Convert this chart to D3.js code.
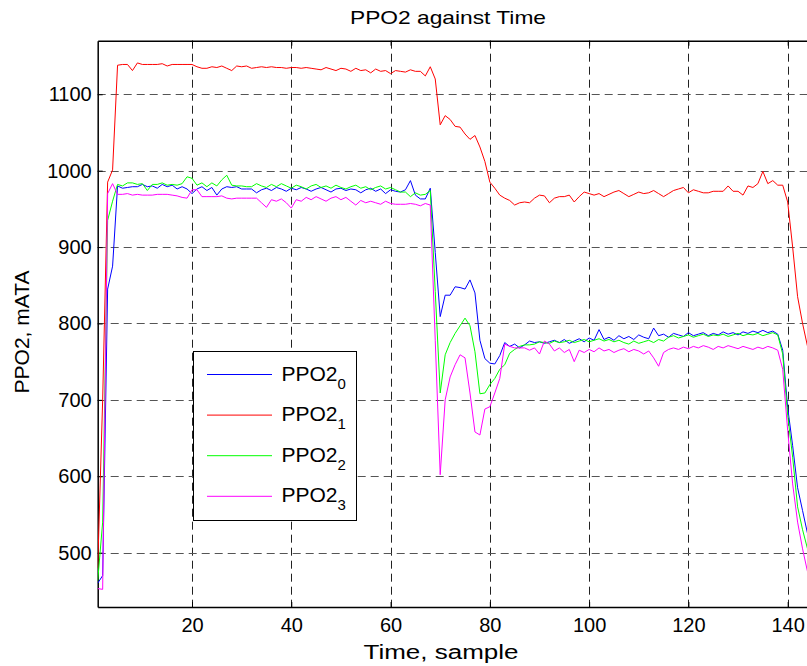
<!DOCTYPE html>
<html>
<head>
<meta charset="utf-8">
<script src="https://cdn.jsdelivr.net/npm/d3@7"></script>
<style>
  body { margin: 0; background: #fff; }
  svg text { font-family: "Liberation Sans", Arial, sans-serif; fill: #000; }
</style>
</head>
<body>
<div id="chart"></div>
<script>
// PPO2 readings per sensor, one value per sample (sample 1..145)
let ppo2_0 = [
    460, 470, 845, 875, 980, 977, 978, 979, 979, 982,
    979, 980, 977, 982, 979, 981, 976, 979, 976, 970,
    976, 979, 974, 978, 968, 976, 979, 978, 979, 976,
    976, 976, 971, 975, 977, 974, 978, 976, 973, 977,
    975, 978, 976, 973, 976, 978, 975, 972, 976, 977,
    974, 976, 975, 971, 975, 977, 973, 976, 970, 975,
    973, 972, 975, 987, 968, 963, 963, 977, 893, 809,
    837, 837, 848, 847, 845, 857, 840, 778, 754, 748,
    747, 758, 775, 770, 773, 768, 772, 777, 775, 776,
    774, 776, 778, 775, 779, 774, 777, 780, 776, 781,
    778, 792, 779, 782, 778, 784, 780, 783, 779, 785,
    782, 780, 794, 784, 786, 782, 787, 785, 783, 788,
    784, 786, 788, 784, 787, 785, 789, 786, 788, 785,
    789, 787, 790, 788, 791, 788, 790, 786, 765, 690,
    640, 585, 555, 525, 505
];

let ppo2_1 = [
    480, 700, 985, 1001, 1138, 1139, 1139, 1131, 1141, 1139,
    1139, 1139, 1139, 1140, 1137, 1139, 1139, 1139, 1139, 1139,
    1136, 1134, 1134, 1136, 1135, 1137, 1134, 1131, 1137, 1136,
    1137, 1134, 1135, 1136, 1135, 1136, 1135, 1135, 1134, 1135,
    1135, 1134, 1135, 1134, 1133, 1132, 1135, 1133, 1131, 1134,
    1133, 1130, 1134, 1131, 1132, 1128, 1133, 1130, 1131, 1127,
    1131, 1130, 1129, 1132, 1130, 1130, 1124, 1136, 1120, 1060,
    1072, 1067, 1058, 1057, 1048, 1041, 1046, 1031, 1012, 985,
    977, 968, 964, 961, 955, 958, 959, 958, 964, 968,
    967, 958, 964, 966, 966, 968, 959, 966, 972, 970,
    968, 970, 966, 969, 972, 974, 970, 966, 969, 972,
    970, 971, 974, 970, 966, 970, 974, 976, 978, 971,
    975, 973, 971, 971, 973, 973, 973, 980, 973, 973,
    968, 980, 978, 983, 999, 983, 987, 981, 981, 959,
    900, 835, 800, 770, 750
];

let ppo2_2 = [
    463, 540, 935, 960, 982, 980, 984, 984, 982, 983,
    974, 982, 982, 984, 981, 982, 981, 983, 992, 990,
    981, 984, 979, 984, 980, 988, 994, 981, 980, 980,
    979, 979, 983, 980, 978, 982, 979, 983, 980, 977,
    981, 979, 976, 980, 982, 978, 980, 977, 981, 978,
    976, 979, 981, 977, 979, 975, 978, 980, 976, 978,
    975, 972, 972, 966, 971, 968, 969, 974, 842, 709,
    759, 775, 787, 797, 807, 797, 763, 708, 709, 720,
    728, 740, 746, 761, 766, 770, 772, 772, 773, 776,
    775, 774, 777, 775, 776, 778, 775, 777, 779, 776,
    778, 780, 777, 779, 776, 778, 775, 773, 777, 774,
    776, 778, 775, 779, 777, 782, 784, 781, 783, 785,
    782, 784, 786, 783, 785, 784, 786, 783, 785, 787,
    784, 786, 785, 787, 784, 786, 788, 785, 760, 680,
    625, 560, 530, 505, 490
];

let ppo2_3 = [
    453, 452, 970, 983, 969, 969, 970, 968, 969, 968,
    968, 968, 969, 969, 969, 968, 967, 965, 964, 975,
    975, 966, 966, 966, 966, 967, 964, 963, 964, 964,
    964, 964, 964, 958, 952, 962, 960, 963, 958, 951,
    962, 960, 965, 962, 966, 963, 960, 964, 966, 962,
    965, 960, 955, 961, 958, 960, 958, 956, 960, 957,
    956, 956, 956, 957, 956, 954, 957, 955, 778, 602,
    700, 730, 746, 759, 755, 709, 658, 654, 688, 691,
    709, 728, 773, 770, 768, 768, 768, 765, 768, 760,
    777, 773, 764, 768, 762, 766, 750, 765, 762, 766,
    763, 768, 764, 766, 762, 765, 767, 763, 766, 764,
    760, 764, 755, 744, 762, 766, 768, 766, 769, 767,
    770, 768, 771, 769, 766, 770, 768, 771, 769, 767,
    770, 768, 766, 769, 767, 770, 768, 765, 740, 660,
    590, 540, 505, 475, 460
];

let seriesNames = ["0", "1", "2", "3"];
let seriesColors = ["#0000ff", "#ff0000", "#00ff00", "#ff00ff"];
let xTicks = [20, 40, 60, 80, 100, 120, 140];
let yTicks = [500, 600, 700, 800, 900, 1000, 1100];

(() => {
    let w = 807;
    let h = 666;
    let left = 97.7, top = 40.7, bottom = 607, right = 812.5;

    let allSeries = [ppo2_0, ppo2_1, ppo2_2, ppo2_3];

    let x = d3.scaleLinear().domain([1, 145]).range([left, right]);
    let y = d3.scaleLinear().domain([428.9, 1170.1]).range([bottom, top]);

    let svg = d3.select("#chart")
        .append("svg")
        .attr("width", w)
        .attr("height", h);

    svg.append("rect")
        .attr("x", left).attr("y", top)
        .attr("width", right - left).attr("height", bottom - top)
        .attr("fill", "#fff");

    // dashed grid
    svg.selectAll(".vgrid")
        .data(xTicks)
        .enter()
        .append("line")
        .attr("x1", (d) => Math.round(x(d)) + 0.5)
        .attr("x2", (d) => Math.round(x(d)) + 0.5)
        .attr("y1", top)
        .attr("y2", bottom)
        .attr("stroke", "#222")
        .attr("stroke-dasharray", "8,5");

    svg.selectAll(".hgrid")
        .data(yTicks)
        .enter()
        .append("line")
        .attr("x1", left)
        .attr("x2", right)
        .attr("y1", (d) => Math.round(y(d)) + 0.5)
        .attr("y2", (d) => Math.round(y(d)) + 0.5)
        .attr("stroke", "#555")
        .attr("stroke-dasharray", "8,5");

    // axes, ticks pointing inward like matlab
    svg.append("g")
        .attr("transform", "translate(0," + bottom + ")")
        .call(d3.axisBottom(x).tickValues(xTicks).tickSizeInner(-5).tickSizeOuter(0).tickPadding(11))
        .call((g) => g.selectAll("text").attr("font-size", 20).style("font-family", "Liberation Sans, Arial, sans-serif"));

    svg.append("g")
        .attr("transform", "translate(0," + top + ")")
        .call(d3.axisTop(x).tickValues(xTicks).tickSizeInner(-5).tickSizeOuter(0).tickFormat(""));

    svg.append("g")
        .attr("transform", "translate(" + left + ",0)")
        .call(d3.axisLeft(y).tickValues(yTicks).tickFormat(d3.format("d"))
            .tickSizeInner(-5).tickSizeOuter(0).tickPadding(6))
        .call((g) => g.selectAll("text").attr("font-size", 20).style("font-family", "Liberation Sans, Arial, sans-serif"));

    svg.selectAll(".domain").attr("stroke", "#000").attr("stroke-width", 1.5);

    svg.append("clipPath")
        .attr("id", "plotclip")
        .append("rect")
        .attr("x", left).attr("y", top)
        .attr("width", right - left).attr("height", bottom - top);

    let line = d3.line()
        .x((d, i) => x(i + 1))
        .y((d) => y(d));

    svg.append("g")
        .attr("clip-path", "url(#plotclip)")
        .selectAll("path")
        .data(allSeries)
        .enter()
        .append("path")
        .attr("d", line)
        .attr("fill", "none")
        .attr("stroke", (d, i) => seriesColors[i])
        .attr("stroke-width", 1);

    // titles (the original text is drawn a bit wide)
    svg.append("text")
        .text("PPO2 against Time")
        .attr("x", 448)
        .attr("y", 24)
        .attr("text-anchor", "middle")
        .attr("font-size", 19)
        .attr("textLength", 196)
        .attr("lengthAdjust", "spacingAndGlyphs");

    svg.append("text")
        .text("Time, sample")
        .attr("x", 441)
        .attr("y", 659)
        .attr("text-anchor", "middle")
        .attr("font-size", 20)
        .attr("textLength", 155)
        .attr("lengthAdjust", "spacingAndGlyphs");

    svg.append("text")
        .text("PPO2, mATA")
        .attr("transform", "translate(29,332) rotate(-90)")
        .attr("text-anchor", "middle")
        .attr("font-size", 21);

    // legend
    let legend = svg.append("g");
    legend.append("rect")
        .attr("x", 193.5).attr("y", 351.5)
        .attr("width", 163).attr("height", 169)
        .attr("fill", "#fff")
        .attr("stroke", "#000");

    let rowY = (i) => 374.5 + i * 40.6;

    legend.selectAll(".legline")
        .data(seriesNames)
        .enter()
        .append("line")
        .attr("x1", 207).attr("x2", 272)
        .attr("y1", (d, i) => rowY(i))
        .attr("y2", (d, i) => rowY(i))
        .attr("stroke", (d, i) => seriesColors[i]);

    let labels = legend.selectAll(".leglabel")
        .data(seriesNames)
        .enter()
        .append("text")
        .attr("x", 281.5)
        .attr("y", (d, i) => rowY(i) + 6)
        .attr("font-size", 21);
    labels.append("tspan").text("PPO2");
    labels.append("tspan")
        .attr("dy", 8)
        .attr("font-size", 15)
        .text((d) => d);
})();
</script>
</body>
</html>
